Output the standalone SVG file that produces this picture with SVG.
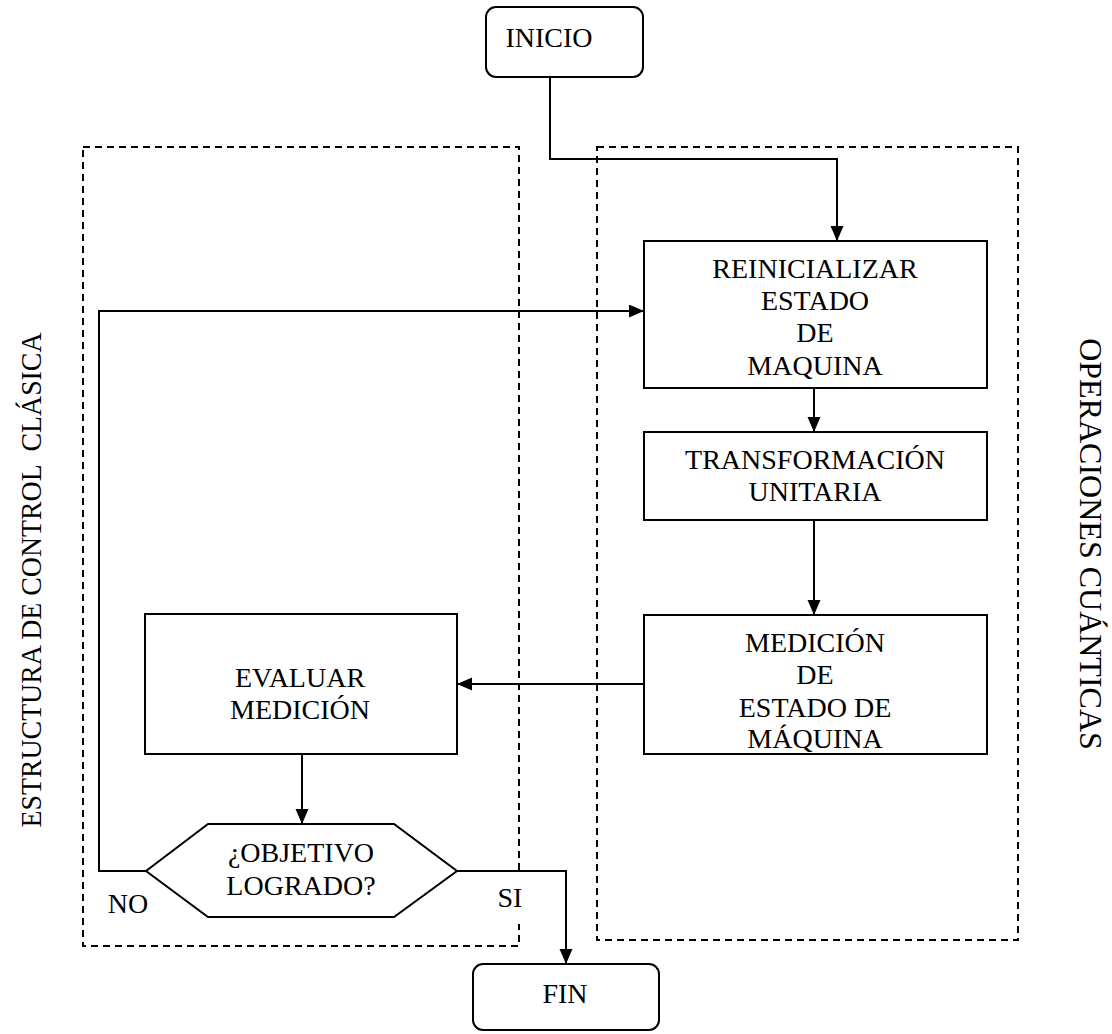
<svg xmlns="http://www.w3.org/2000/svg" width="1112" height="1034" viewBox="0 0 1112 1034">
<style>
text{font-family:"Liberation Serif","Times New Roman",serif;font-size:28px;fill:#000;text-anchor:middle}
.box{fill:#fff;stroke:#000;stroke-width:2}
.dash{fill:none;stroke:#000;stroke-width:2;stroke-dasharray:7 5}
.conn{fill:none;stroke:#000;stroke-width:2}
</style>
<defs>
<marker id="arr" markerUnits="userSpaceOnUse" markerWidth="16" markerHeight="14" refX="15" refY="6.5" orient="auto">
<path d="M0,0 L15,6.5 L0,13 Z" fill="#000"/>
</marker>
</defs>
<rect width="1112" height="1034" fill="#fff"/>
<g id="grupo-clasico">
<rect class="dash" x="83" y="147" width="436" height="799"/>
<text transform="translate(41,580) rotate(-90)" xml:space="preserve" style="white-space:pre;font-size:30px" textLength="495" lengthAdjust="spacingAndGlyphs">ESTRUCTURA DE CONTROL  CLÁSICA</text>
</g>
<g id="grupo-cuantico">
<rect class="dash" x="597" y="147" width="421" height="793"/>
<text transform="translate(1080,544) rotate(90)" style="font-size:32px">OPERACIONES CUÁNTICAS</text>
</g>
<g id="connectors">
<polyline class="conn" points="550,77 550,159 837,159 837,241" marker-end="url(#arr)"/>
<line class="conn" x1="814" y1="388" x2="814" y2="432" marker-end="url(#arr)"/>
<line class="conn" x1="814" y1="520" x2="814" y2="615" marker-end="url(#arr)"/>
<line class="conn" x1="644" y1="684" x2="457" y2="684" marker-end="url(#arr)"/>
<line class="conn" x1="302" y1="754" x2="302" y2="824" marker-end="url(#arr)"/>
<polyline class="conn" points="146,871 99,871 99,311 644,311" marker-end="url(#arr)"/>
<polyline class="conn" points="457,871 566,871 566,964" marker-end="url(#arr)"/>
<text x="128" y="913">NO</text>
<rect x="494" y="873" width="32" height="51" fill="#fff"/>
<text x="510" y="907">SI</text>
</g>
<g id="inicio">
<rect class="box" x="486" y="7" width="157" height="70" rx="10"/>
<text x="549" y="47">INICIO</text>
</g>
<g id="reinicializar">
<rect class="box" x="644" y="241" width="343" height="147"/>
<text x="815" y="278">REINICIALIZAR</text>
<text x="815" y="310">ESTADO</text>
<text x="815" y="342">DE</text>
<text x="815" y="375">MAQUINA</text>
</g>
<g id="transformacion">
<rect class="box" x="644" y="432" width="343" height="88"/>
<text x="815" y="469">TRANSFORMACIÓN</text>
<text x="815" y="501">UNITARIA</text>
</g>
<g id="medicion">
<rect class="box" x="644" y="615" width="343" height="139"/>
<text x="815" y="652">MEDICIÓN</text>
<text x="815" y="684">DE</text>
<text x="815" y="717">ESTADO DE</text>
<text x="815" y="748">MÁQUINA</text>
</g>
<g id="evaluar">
<rect class="box" x="145" y="614" width="312" height="140"/>
<text x="300" y="687">EVALUAR</text>
<text x="300" y="719">MEDICIÓN</text>
</g>
<g id="objetivo">
<polygon class="box" points="146,871 208,824 394,824 457,871 394,917 208,917"/>
<text x="301" y="862">¿OBJETIVO</text>
<text x="301" y="895">LOGRADO?</text>
</g>
<g id="fin">
<rect class="box" x="473" y="964" width="186" height="66" rx="10"/>
<text x="565" y="1003">FIN</text>
</g>
</svg>
